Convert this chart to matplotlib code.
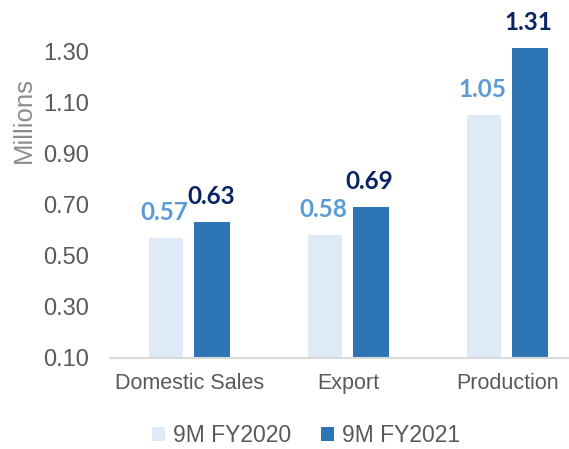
import matplotlib
matplotlib.use("Agg")
import matplotlib.pyplot as plt
import numpy as np

categories = ["Domestic Sales", "Export", "Production"]
fy2020 = [0.57, 0.58, 1.05]
fy2021 = [0.63, 0.69, 1.31]
series_names = ["9M FY2020", "9M FY2021"]
yticks = [0.10, 0.30, 0.50, 0.70, 0.90, 1.10, 1.30]

c_light = "#DEEAF6"
c_dark = "#2E75B6"
lab_light = "#5B9BD5"
lab_dark = "#0A2463"
grey = "#595959"

fig = plt.figure(figsize=(5.69, 4.49), dpi=100)
ax = fig.add_axes([110/569, 91/449, 477/569, 0.7407])

x = np.arange(len(categories))
b1 = ax.bar(x - 0.148, fy2020, width=0.215, color=c_light, label=series_names[0], zorder=2)
b2 = ax.bar(x + 0.142, fy2021, width=0.225, color=c_dark, label=series_names[1], zorder=2)

for xi, v in zip(x - 0.148, fy2020):
    ax.annotate(f"{v:.2f}", (xi, v), xytext=(-1, 13), textcoords="offset points",
                ha="center", va="baseline", fontsize=17.5, fontweight="bold",
                color=lab_light, family="Lato", annotation_clip=False)
for xi, v in zip(x + 0.142, fy2021):
    ax.annotate(f"{v:.2f}", (xi, v), xytext=(-1, 13), textcoords="offset points",
                ha="center", va="baseline", fontsize=17.5, fontweight="bold",
                color=lab_dark, family="Lato", annotation_clip=False)

ax.set_xlim(-0.5, 2.5)
ax.set_ylim(0.10, 1.40)
ax.set_yticks(yticks)
ax.set_yticklabels([f"{t:.2f}" for t in yticks], family="Liberation Sans", fontsize=17, color=grey)
ax.set_xticks(x)
ax.set_xticklabels(categories, family="Liberation Sans", fontsize=15.5, color=grey)
ax.tick_params(axis="y", length=0, pad=15)
ax.tick_params(axis="x", length=0, pad=11)
for s in ["top", "right", "left"]:
    ax.spines[s].set_visible(False)
ax.spines["bottom"].set_color("#D9D9D9")
ax.spines["bottom"].set_linewidth(1.5)
ax.spines["bottom"].set_zorder(3)

fig.text(24/569, 1 - 120/449, "Millions", rotation=90, ha="center", va="center",
         family="Liberation Sans", fontsize=18.5, color="#8C8C8C")

leg = fig.legend(handles=[b1, b2], labels=series_names, loc="center",
                 bbox_to_anchor=(306/569, 13/449), ncol=2, frameon=False,
                 prop={"family": "Liberation Sans", "size": 16.5},
                 handlelength=0.55, handleheight=0.55, handletextpad=0.35, columnspacing=1.3)
for t in leg.get_texts():
    t.set_color(grey)

fig.savefig("out.png", dpi=100)
